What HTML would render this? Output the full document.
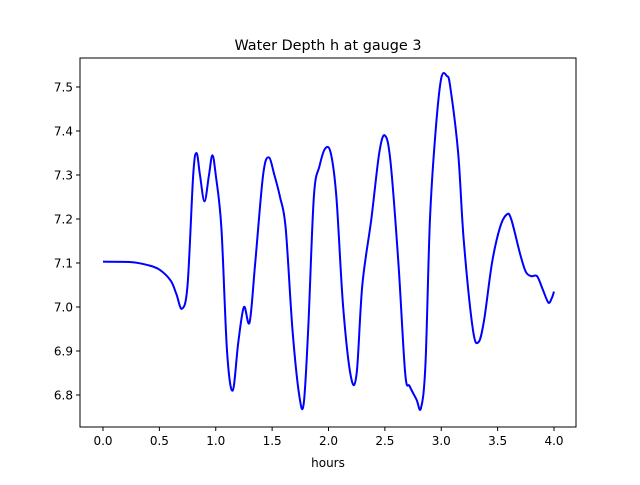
<!DOCTYPE html>
<html><head><meta charset="utf-8"><style>
body{margin:0;background:#fff}
svg text{font-family:"DejaVu Sans","Liberation Sans",sans-serif;font-size:12px}
</style></head><body>
<svg id="chart" width="640" height="480" xmlns="http://www.w3.org/2000/svg">
<rect width="640" height="480" fill="#fff"/>
<text x="328" y="50" text-anchor="middle" style="font-size:14.4px">Water Depth h at gauge 3</text>
<g id="axes"></g>
<path id="line" fill="none" stroke="#0000ff" stroke-width="2" stroke-linejoin="round"/>
<rect x="80" y="58" width="496" height="369" fill="none" stroke="#000" stroke-width="1"/>
<text x="328" y="467" text-anchor="middle">hours</text>
</svg>
<script>
const hours=[0,0.25,0.4,0.5,0.6,0.65,0.7,0.75,0.8,0.83,0.86,0.9,0.94,0.97,1.0,1.05,1.1,1.15,1.2,1.25,1.3,1.35,1.42,1.47,1.52,1.57,1.62,1.68,1.74,1.78,1.82,1.87,1.92,1.97,2.02,2.07,2.13,2.2,2.25,2.3,2.38,2.45,2.5,2.55,2.62,2.68,2.72,2.78,2.82,2.86,2.9,2.95,3.0,3.05,3.08,3.15,3.2,3.28,3.33,3.38,3.45,3.52,3.58,3.62,3.7,3.75,3.8,3.85,3.9,3.95,3.98,4.0];
const depth=[7.103,7.102,7.095,7.085,7.06,7.03,6.996,7.05,7.3,7.35,7.3,7.24,7.3,7.345,7.3,7.18,6.9,6.81,6.92,7.0,6.965,7.1,7.3,7.34,7.3,7.25,7.18,6.95,6.8,6.78,6.95,7.25,7.32,7.36,7.35,7.25,7.0,6.84,6.85,7.05,7.2,7.35,7.39,7.33,7.1,6.85,6.82,6.79,6.77,6.87,7.2,7.4,7.52,7.525,7.5,7.35,7.15,6.95,6.92,6.97,7.1,7.18,7.21,7.2,7.12,7.08,7.07,7.07,7.04,7.01,7.02,7.035];
const xTicks=[0,0.5,1,1.5,2,2.5,3,3.5,4];
const yTicks=[6.8,6.9,7.0,7.1,7.2,7.3,7.4,7.5];
const xs=h=>103+h*112.75;
const ys=v=>307-(v-7.0)*440;
const NS="http://www.w3.org/2000/svg";
const ax=document.getElementById('axes');
xTicks.forEach(t=>{
 const l=document.createElementNS(NS,'line');
 
 
 l.setAttribute('x1',xs(t));l.setAttribute('x2',xs(t));l.setAttribute('y1',427);l.setAttribute('y2',431);l.setAttribute('stroke','#000');
 ax.appendChild(l);
 const tx=document.createElementNS(NS,'text');
 
 
 tx.setAttribute('x',xs(t));tx.setAttribute('y',445);tx.setAttribute('text-anchor','middle');
 tx.textContent=t.toFixed(1);ax.appendChild(tx);
});
yTicks.forEach(t=>{
 const l=document.createElementNS(NS,'line');
 
 
 l.setAttribute('x1',76);l.setAttribute('x2',80);l.setAttribute('y1',ys(t));l.setAttribute('y2',ys(t));l.setAttribute('stroke','#000');
 ax.appendChild(l);
 const tx=document.createElementNS(NS,'text');
 
 
 tx.setAttribute('x',73);tx.setAttribute('y',ys(t)+4.5);tx.setAttribute('text-anchor','end');
 tx.textContent=t.toFixed(1);ax.appendChild(tx);
});
const P=hours.map((h,i)=>[xs(h),ys(depth[i])]);
let d='M'+P[0][0]+','+P[0][1];
for(let i=0;i<P.length-1;i++){
 const p0=P[Math.max(i-1,0)],p1=P[i],p2=P[i+1],p3=P[Math.min(i+2,P.length-1)];
 d+=' C'+(p1[0]+(p2[0]-p0[0])/6)+','+(p1[1]+(p2[1]-p0[1])/6)+' '+(p2[0]-(p3[0]-p1[0])/6)+','+(p2[1]-(p3[1]-p1[1])/6)+' '+p2[0]+','+p2[1];
}
document.getElementById('line').setAttribute('d',d);
</script>
</body></html>
